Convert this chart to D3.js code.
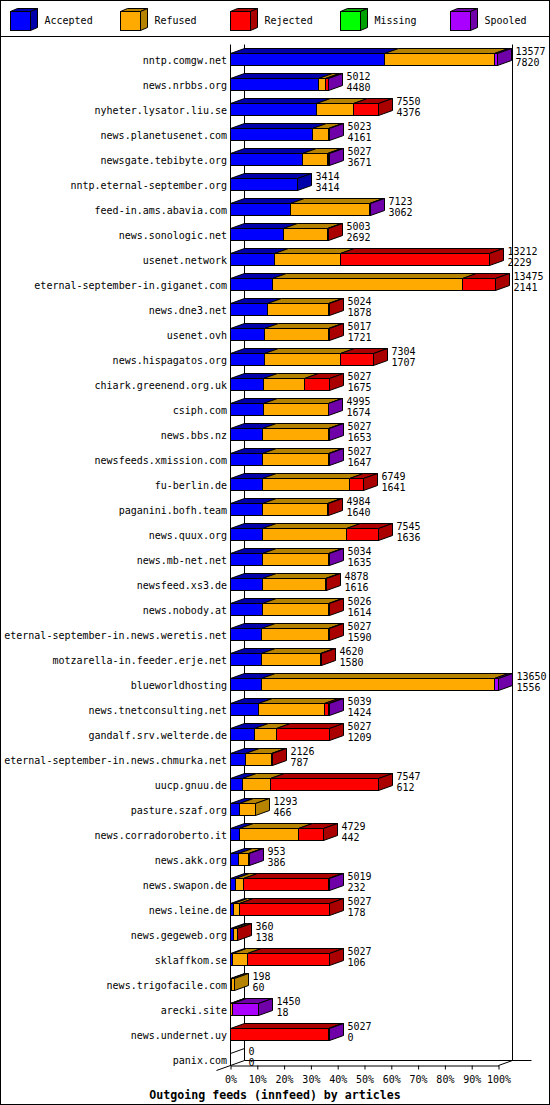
<!DOCTYPE html>
<html lang="en">
<head>
<meta charset="UTF-8">
<title>Outgoing feeds (innfeed) by articles</title>
<script src="https://d3js.org/d3.v7.min.js"></script>
<style>
    body { margin: 0; background: #fff; }
    svg text { font-family: "DejaVu Sans Mono", monospace; font-size: 10px; fill: #000; }
</style>
</head>
<body>
<svg width="550" height="1105"></svg>
<script>
// feeds, top to bottom
const hosts = ["nntp.comgw.net", "news.nrbbs.org", "nyheter.lysator.liu.se", "news.planetusenet.com",
    "newsgate.tebibyte.org", "nntp.eternal-september.org", "feed-in.ams.abavia.com", "news.sonologic.net",
    "usenet.network", "eternal-september-in.giganet.com", "news.dne3.net", "usenet.ovh",
    "news.hispagatos.org", "chiark.greenend.org.uk", "csiph.com", "news.bbs.nz",
    "newsfeeds.xmission.com", "fu-berlin.de", "paganini.bofh.team", "news.quux.org",
    "news.mb-net.net", "newsfeed.xs3.de", "news.nobody.at", "eternal-september-in.news.weretis.net",
    "motzarella-in.feeder.erje.net", "blueworldhosting", "news.tnetconsulting.net", "gandalf.srv.welterde.de",
    "eternal-september-in.news.chmurka.net", "uucp.gnuu.de", "pasture.szaf.org", "news.corradoroberto.it",
    "news.akk.org", "news.swapon.de", "news.leine.de", "news.gegeweb.org",
    "sklaffkom.se", "news.trigofacile.com", "arecki.site", "news.undernet.uy", "panix.com"];

const accepted = [7820, 4480, 4376, 4161, 3671, 3414, 3062, 2692, 2229, 2141, 1878, 1721, 1707, 1675,
    1674, 1653, 1647, 1641, 1640, 1636, 1635, 1616, 1614, 1590, 1580, 1556, 1424, 1209, 787, 612,
    466, 442, 386, 232, 178, 138, 106, 60, 18, 0, 0];
const refused = [5620, 370, 1900, 840, 1256, 0, 4020, 2240, 3350, 9700, 3120, 3270, 3900, 2080,
    3300, 3350, 3355, 4440, 3320, 4270, 3375, 3240, 3390, 3415, 3020, 11900, 3380, 1150, 1320, 1450,
    827, 3040, 550, 440, 300, 200, 770, 138, 90, 0, 0];
const rejected = [0, 140, 1274, 0, 60, 0, 0, 71, 7633, 1634, 26, 26, 1697, 1272,
    0, 0, 0, 668, 24, 1639, 0, 22, 22, 22, 20, 0, 200, 2668, 19, 5485,
    0, 1247, 0, 4325, 4549, 22, 4151, 0, 0, 5000, 0];
const missing = hosts.map(() => 0);
const spooled = [137, 22, 0, 22, 40, 0, 41, 0, 0, 0, 0, 0, 0, 0,
    21, 24, 25, 0, 0, 0, 24, 0, 0, 0, 0, 194, 35, 0, 0, 0,
    0, 0, 17, 22, 0, 0, 0, 0, 1342, 27, 0];

const seriesNames = ["Accepted", "Refused", "Rejected", "Missing", "Spooled"];
const seriesData = [accepted, refused, rejected, missing, spooled];
const frontColors = ["#0000ff", "#ffaa00", "#ff0000", "#00ff00", "#aa00ff"];
const darkColors = ["#0000aa", "#b58300", "#aa0000", "#00a000", "#7000a8"];
const tickValues = [0, 10, 20, 30, 40, 50, 60, 70, 80, 90, 100];

const totals = hosts.map((h, i) => d3.sum(seriesData, s => s[i]));

const svg = d3.select("svg");
const DX = 14, DY = 5;   // depth of the 3d effect
const snap = v => Math.round(v - 0.5) + 0.5;

const x = d3.scaleLinear().domain([0, d3.max(totals)]).range([230.5, 498.5]);
const pct = d3.scaleLinear().domain([0, 100]).range([230.5, 498.5]);
const y = d3.scalePoint().domain(hosts).range([59.5, 1059.5]);

const floorY = y(hosts[hosts.length - 1]) + 6;

svg.append("rect").attr("x", 0.5).attr("y", 0.5).attr("width", 549).attr("height", 1104)
    .attr("fill", "#fff").attr("stroke", "#000");
svg.append("line").attr("x1", 0).attr("x2", 550).attr("y1", 36.5).attr("y2", 36.5).attr("stroke", "#000");

// legend cubes
seriesNames.forEach((name, i) => {
    const gx = 10.5 + i * 110, t = 11.5, b = 30.5, w = 20;
    const g = svg.append("g");
    g.append("rect").attr("x", gx).attr("y", t).attr("width", w).attr("height", b - t)
        .attr("fill", frontColors[i]).attr("stroke", "#000");
    g.append("path").attr("d", `M${gx},${t}L${gx + 7},${t - 3}L${gx + w + 7},${t - 3}L${gx + w},${t}Z`)
        .attr("fill", darkColors[i]).attr("stroke", "#000");
    g.append("path").attr("d", `M${gx + w},${t}L${gx + w + 7},${t - 3}L${gx + w + 7},${b - 3}L${gx + w},${b}Z`)
        .attr("fill", darkColors[i]).attr("stroke", "#000");
    g.append("text").attr("x", gx + 34).attr("y", 24).text(name);
});

// walls and floor
const x0 = pct(0), x1 = pct(100);
const walls = svg.append("g").attr("stroke", "#000").attr("fill", "none");
walls.append("line").attr("x1", x0).attr("x2", x0).attr("y1", 44.5).attr("y2", floorY);
walls.append("line").attr("x1", x0 + DX).attr("x2", x0 + DX).attr("y1", 44.5).attr("y2", floorY - DY);
walls.append("line").attr("x1", x1 + DX).attr("x2", x1 + DX).attr("y1", 44.5).attr("y2", floorY - DY);
walls.append("line").attr("x1", x0 + DX).attr("x2", 531.5).attr("y1", floorY - DY).attr("y2", floorY - DY);
walls.append("line").attr("x1", x0 - DX).attr("x2", x0 + DX).attr("y1", floorY + DY).attr("y2", floorY - DY);
walls.append("line").attr("x1", x1).attr("x2", x1 + DX).attr("y1", floorY).attr("y2", floorY - DY);

// host labels
svg.append("g").selectAll("text").data(hosts).join("text")
    .attr("x", 227).attr("y", d => y(d) + 4).attr("text-anchor", "end").text(d => d);

// bars
hosts.forEach((h, i) => {
    const c = y(h), top = c - 6, bot = c + 6;
    const g = svg.append("g").attr("stroke", "#000");
    let cum = 0, last = -1, lastX = snap(x(0));
    if (totals[i] === 0) {
        g.append("path").attr("d", `M${lastX},${top}L${lastX + DX},${top - DY}`);
    }
    seriesData.forEach((s, k) => {
        const v = s[i];
        if (!v) return;
        const a = snap(x(cum)), b = snap(x(cum + v));
        cum += v;
        g.append("path").attr("d", `M${a},${top}L${a + DX},${top - DY}L${b + DX},${top - DY}L${b},${top}Z`)
            .attr("fill", darkColors[k]);
        g.append("rect").attr("x", a).attr("y", top).attr("width", b - a).attr("height", bot - top)
            .attr("fill", frontColors[k]);
        last = k; lastX = b;
    });
    if (last >= 0) {
        g.append("path")
            .attr("d", `M${lastX},${top}L${lastX + DX},${top - DY}L${lastX + DX},${bot - DY}L${lastX},${bot}Z`)
            .attr("fill", darkColors[last]);
    }
    svg.append("text").attr("x", lastX + 18).attr("y", c - 5).text(totals[i]);
    svg.append("text").attr("x", lastX + 18).attr("y", c + 6).text(accepted[i]);
});

// percent axis along the floor
const axis = svg.append("g").attr("transform", `translate(0,${floorY})`)
    .call(d3.axisBottom(pct).tickValues(tickValues).tickSize(4).tickSizeOuter(0).tickFormat(d => d + "%"));
axis.select(".domain").attr("stroke", "#000");
axis.selectAll(".tick line").attr("stroke", "#000");
axis.selectAll(".tick text").attr("y", 17.5).attr("dy", 0)
    .style("font-family", "DejaVu Sans Mono, monospace").style("font-size", "10px");

svg.append("text").attr("x", 275).attr("y", 1099).attr("text-anchor", "middle")
    .style("font-weight", "bold").style("font-size", "11.6px")
    .text("Outgoing feeds (innfeed) by articles");
</script>
</body>
</html>
